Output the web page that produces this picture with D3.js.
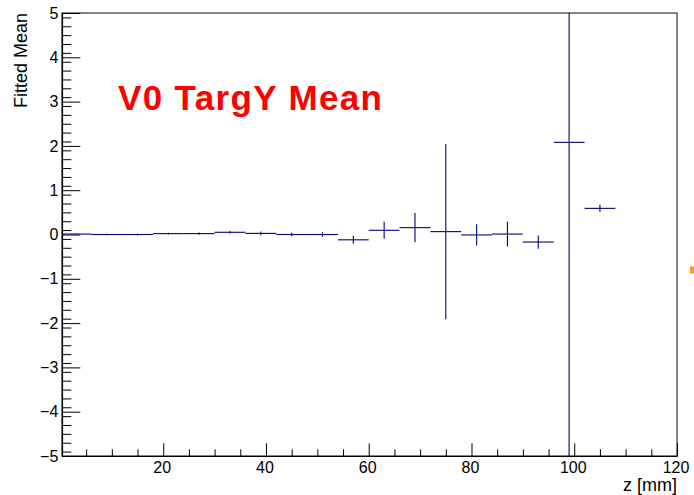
<!DOCTYPE html>
<html>
<head>
<meta charset="utf-8">
<script src="https://cdn.jsdelivr.net/npm/d3@7"></script>
<style>
  html, body { margin: 0; padding: 0; background: #fff; }
  svg { display: block; font-family: "Liberation Sans", Arial, Helvetica, sans-serif; }
</style>
</head>
<body>
<svg id="chart" width="694" height="495"></svg>
<script>
// Bin centres along z [mm] (6 mm wide bins)
const binCenters = [3, 9, 15, 21, 27, 33, 39, 45, 51, 57, 63, 69, 75, 81, 87, 93, 99, 105];
const binWidth = 6;
// Fitted mean of V0 target Y in each bin, and its uncertainty
const fittedMean = [0.01, 0.0, 0.0, 0.02, 0.02, 0.05, 0.025, 0.0, 0.0, -0.12, 0.095, 0.155, 0.065, -0.01, 0.01, -0.17, 2.08, 0.59];
const meanError = [0.01, 0.015, 0.02, 0.02, 0.025, 0.03, 0.04, 0.04, 0.05, 0.09, 0.19, 0.33, 1.98, 0.24, 0.28, 0.15, 7.5, 0.08];
// Axis ticks
const xMajorTicks = [20, 40, 60, 80, 100, 120];
const xMinorTicks = [5, 10, 15, 25, 30, 35, 45, 50, 55, 65, 70, 75, 85, 90, 95, 105, 110, 115];
const yMajorTicks = [-5, -4, -3, -2, -1, 0, 1, 2, 3, 4, 5];
const yMinorTicks = d3.range(-49, 50, 2).map(v => v / 10).filter(v => Math.abs(v - Math.round(v)) > 1e-6);

const svg = d3.select("#chart");
const frame = { left: 62, top: 13, right: 677, bottom: 456 };

const x = d3.scaleLinear().domain([0.3, 120]).range([frame.left, frame.right]);
const y = d3.scaleLinear().domain([-5, 5]).range([frame.bottom, frame.top]);

svg.append("defs").append("clipPath").attr("id", "plotClip")
  .append("rect")
  .attr("x", frame.left).attr("y", frame.top)
  .attr("width", frame.right - frame.left).attr("height", frame.bottom - frame.top);

// Frame
svg.append("rect")
  .attr("x", frame.left).attr("y", frame.top)
  .attr("width", frame.right - frame.left).attr("height", frame.bottom - frame.top)
  .attr("fill", "none").attr("stroke", "#333").attr("stroke-width", 1.2);

// Minor ticks
svg.append("g")
  .attr("transform", `translate(0,${frame.bottom})`)
  .call(d3.axisBottom(x).tickValues(xMinorTicks).tickSizeInner(-6.7).tickSizeOuter(0).tickFormat(""))
  .call(g => g.select(".domain").remove());
svg.append("g")
  .attr("transform", `translate(${frame.left},0)`)
  .call(d3.axisLeft(y).tickValues(yMinorTicks).tickSizeInner(-9.3).tickSizeOuter(0).tickFormat(""))
  .call(g => g.select(".domain").remove());

// Major axes
const xAxis = svg.append("g")
  .attr("transform", `translate(0,${frame.bottom})`)
  .call(d3.axisBottom(x).tickValues(xMajorTicks).tickSizeInner(-12.7).tickSizeOuter(0).tickPadding(5.6));
xAxis.selectAll("text").attr("dx", "-1.5");

const yAxis = svg.append("g")
  .attr("transform", `translate(${frame.left},0)`)
  .call(d3.axisLeft(y).tickValues(yMajorTicks).tickSizeInner(-18.3).tickSizeOuter(0).tickPadding(3.7)
    .tickFormat(d => d < 0 ? "\u2212" + Math.abs(d) : String(d)));

svg.selectAll(".tick text").attr("font-size", 16).attr("fill", "#000")
  .attr("font-family", "'Liberation Sans', Arial, sans-serif");
svg.selectAll(".tick line").attr("stroke", "#000");
svg.selectAll(".domain").attr("stroke", "#000").attr("stroke-width", 1.2);

// Axis titles
svg.append("text")
  .attr("x", frame.right).attr("y", 491)
  .attr("text-anchor", "end")
  .attr("font-size", 18)
  .text("z [mm]");
svg.append("text")
  .attr("transform", `translate(27,${frame.top}) rotate(-90)`)
  .attr("text-anchor", "end")
  .attr("font-size", 18)
  .text("Fitted Mean");

// Error bars
const bins = binCenters.map((c, i) => ({ c, m: fittedMean[i], e: meanError[i] }));
const marks = svg.append("g").attr("clip-path", "url(#plotClip)")
  .attr("stroke", "#000080").attr("stroke-width", 1.1).attr("fill", "none");
marks.selectAll("line.h").data(bins).join("line")
  .attr("class", "h")
  .attr("x1", d => x(d.c - binWidth / 2)).attr("x2", d => x(d.c + binWidth / 2))
  .attr("y1", d => y(d.m)).attr("y2", d => y(d.m));
marks.selectAll("line.v").data(bins).join("line")
  .attr("class", "v")
  .attr("x1", d => x(d.c)).attr("x2", d => x(d.c))
  .attr("y1", d => y(d.m - d.e)).attr("y2", d => y(d.m + d.e));

// Title
svg.append("text")
  .attr("x", 118).attr("y", 110)
  .attr("font-size", 35).attr("font-weight", "bold")
  .attr("fill", "#ff0000")
  .attr("textLength", 264).attr("lengthAdjust", "spacing")
  .text("V0 TargY Mean");

// Small orange marker at the right edge
svg.append("rect")
  .attr("x", 690).attr("y", 266.5).attr("width", 4).attr("height", 7)
  .attr("fill", "#f7a11a");
</script>
</body>
</html>
